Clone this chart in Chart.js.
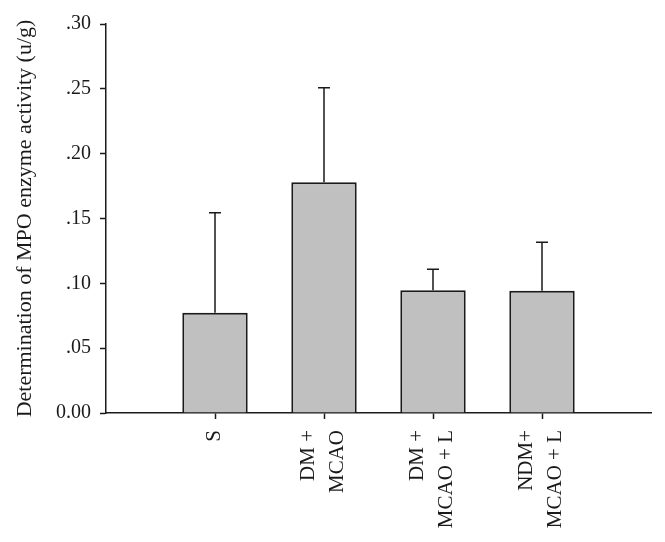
<!DOCTYPE html>
<html>
<head>
  <meta charset="utf-8">
  <title>MPO enzyme activity</title>
  <script src="https://cdn.jsdelivr.net/npm/chart.js"></script>
  <style>
    html, body { margin: 0; padding: 0; background: #fff; }
    #wrap { width: 665px; height: 542px; }
  </style>
</head>
<body>
  <div id="wrap"><canvas id="mpoChart" width="665" height="542"></canvas></div>

  <script>
    // empty slots at both ends so the first bar sits one full step from the y axis
    const groups = ['', 'S', ['DM +', 'MCAO'], ['DM +', 'MCAO + L'], ['NDM+', 'MCAO + L'], ''];
    const means = [null, 0.0773, 0.178, 0.0946, 0.0943, null];
    const upperErr = [null, 0.1544, 0.2508, 0.1108, 0.1316, null];
    const yTicks = [0, 0.05, 0.10, 0.15, 0.20, 0.25, 0.30];

    const ink = '#1a1a1a';
    const serif = "'Liberation Serif', 'DejaVu Serif', serif";

    // draws the upper error bar (stem + cap) over each bar
    const errorBars = {
      id: 'errorBars',
      afterDatasetsDraw(chart) {
        const ctx = chart.ctx;
        const y = chart.scales.y;
        const meta = chart.getDatasetMeta(0);
        ctx.save();
        ctx.strokeStyle = ink;
        ctx.lineWidth = 1.5;
        meta.data.forEach((bar, i) => {
          if (upperErr[i] == null || means[i] == null) return;
          const top = y.getPixelForValue(upperErr[i]);
          const base = y.getPixelForValue(means[i]);
          ctx.beginPath();
          ctx.moveTo(bar.x, base);
          ctx.lineTo(bar.x, top);
          ctx.moveTo(bar.x - 6, top);
          ctx.lineTo(bar.x + 6, top);
          ctx.stroke();
        });
        ctx.restore();
      }
    };

    // vertical category labels, lines stacked side by side and centred on the tick
    const verticalLabels = {
      id: 'verticalLabels',
      afterDraw(chart) {
        const ctx = chart.ctx;
        const x = chart.scales.x;
        const lineGap = 28.5;
        const top = x.top + 17;
        ctx.save();
        ctx.fillStyle = ink;
        ctx.font = '21px ' + serif;
        ctx.textAlign = 'right';
        ctx.textBaseline = 'middle';
        groups.forEach((lab, i) => {
          const lines = Array.isArray(lab) ? lab : [lab];
          if (!lines.join('')) return;
          const cx = x.getPixelForValue(i);
          lines.forEach((txt, j) => {
            const lx = cx + (j - (lines.length - 1) / 2) * lineGap - 1;
            ctx.save();
            ctx.translate(lx, top);
            ctx.rotate(-Math.PI / 2);
            ctx.fillText(txt, 0, 0);
            ctx.restore();
          });
        });
        ctx.restore();
      }
    };

    new Chart(document.getElementById('mpoChart'), {
      type: 'bar',
      data: {
        labels: groups,
        datasets: [{
          data: means,
          backgroundColor: '#c0c0c0',
          borderColor: ink,
          borderWidth: 2,
          borderSkipped: 'bottom',
          barPercentage: 0.6,
          categoryPercentage: 1
        }]
      },
      options: {
        responsive: false,
        animation: false,
        layout: { padding: { top: 24, right: 14, left: 0, bottom: 0 } },
        plugins: {
          legend: { display: false },
          tooltip: { enabled: false }
        },
        scales: {
          x: {
            offset: false,
            afterFit: (s) => { s.height = 129; },
            border: { color: ink, width: 1.5 },
            grid: {
              offset: false,
              drawOnChartArea: false,
              tickLength: 6,
              tickWidth: 1.5,
              tickColor: (c) => (c.index >= 1 && c.index <= 4) ? ink : 'rgba(0,0,0,0)'
            },
            ticks: { display: false, autoSkip: false }
          },
          y: {
            min: 0,
            max: 0.3,
            afterFit: (s) => { s.width = 106; },
            afterBuildTicks: (s) => { s.ticks = yTicks.map(v => ({ value: v })); },
            border: { color: ink, width: 1.5 },
            grid: {
              drawOnChartArea: false,
              tickLength: 6,
              tickWidth: 1.5,
              tickColor: ink
            },
            ticks: {
              padding: 9,
              color: ink,
              font: { family: serif, size: 20 },
              callback: (v) => v === 0 ? '0.00' : v.toFixed(2).replace(/^0/, '')
            },
            title: {
              display: true,
              text: 'Determination of MPO enzyme activity (u/g)',
              color: ink,
              padding: { top: 12, bottom: 0 },
              font: { family: serif, size: 22 }
            }
          }
        }
      },
      plugins: [errorBars, verticalLabels]
    });
  </script>
</body>
</html>
